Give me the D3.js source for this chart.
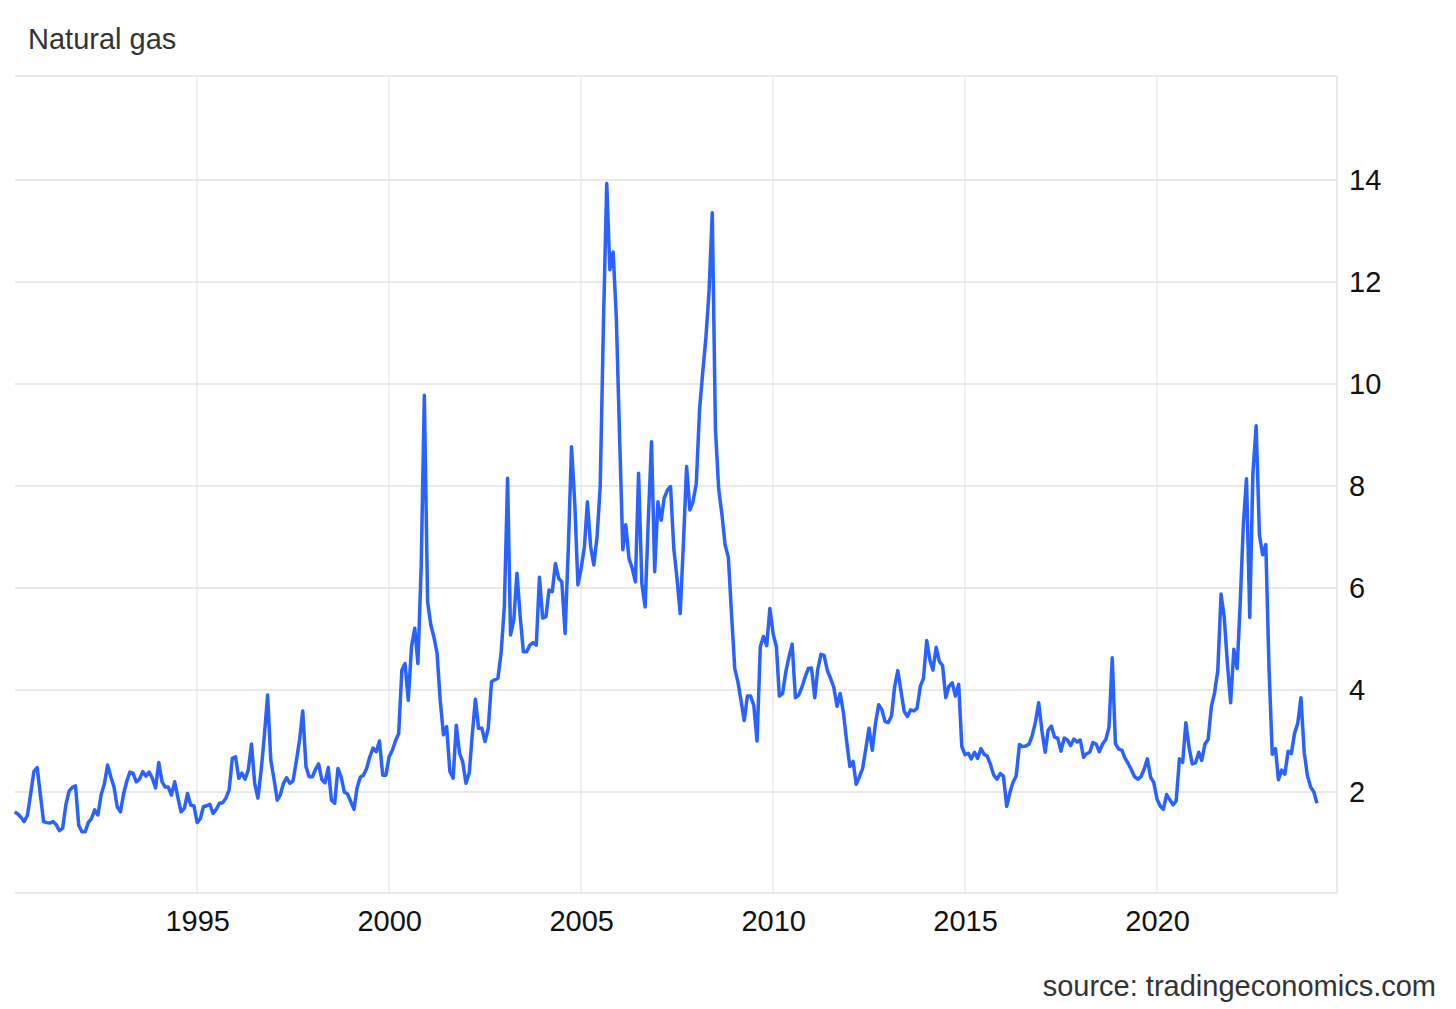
<!DOCTYPE html>
<html>
<head>
<meta charset="utf-8">
<script src="https://cdn.jsdelivr.net/npm/d3@7"></script>
<style>
  body { margin: 0; background: #fff; }
  text { font-family: Arial, "Liberation Sans", sans-serif; }
</style>
</head>
<body>
<div id="chart"></div>
<script>
// monthly closes, first month is April 1990
let startMonth = new Date(1990, 3, 1);
let y1990 = [1.61, 1.57, 1.50, 1.42, 1.55, 1.98, 2.40, 2.48, 1.95];
let y1991 = [1.42, 1.40, 1.39, 1.42, 1.36, 1.24, 1.29, 1.75, 2.02, 2.09, 2.12, 1.35];
let y1992 = [1.22, 1.22, 1.40, 1.48, 1.65, 1.55, 1.94, 2.16, 2.53, 2.30, 2.10, 1.71];
let y1993 = [1.61, 1.97, 2.20, 2.39, 2.37, 2.20, 2.25, 2.40, 2.31, 2.39, 2.27, 2.08];
let y1994 = [2.58, 2.20, 2.10, 2.10, 1.94, 2.20, 1.90, 1.61, 1.68, 1.97, 1.74, 1.73];
let y1995 = [1.40, 1.48, 1.71, 1.73, 1.76, 1.58, 1.66, 1.78, 1.79, 1.88, 2.04, 2.66];
let y1996 = [2.69, 2.27, 2.37, 2.25, 2.43, 2.94, 2.17, 1.88, 2.43, 3.10, 3.90, 2.63];
let y1997 = [2.25, 1.84, 1.94, 2.17, 2.28, 2.17, 2.22, 2.60, 3.02, 3.59, 2.50, 2.30];
let y1998 = [2.30, 2.45, 2.55, 2.24, 2.18, 2.48, 1.84, 1.78, 2.46, 2.30, 2.00, 1.96];
let y1999 = [1.81, 1.66, 2.07, 2.29, 2.33, 2.46, 2.69, 2.86, 2.79, 3.00, 2.33, 2.33];
let y2000 = [2.69, 2.82, 3.00, 3.15, 4.39, 4.52, 3.80, 4.85, 5.21, 4.52, 6.42, 9.78];
let y2001 = [5.73, 5.27, 5.05, 4.72, 3.80, 3.12, 3.28, 2.40, 2.27, 3.31, 2.76, 2.59];
let y2002 = [2.17, 2.37, 3.10, 3.82, 3.25, 3.25, 2.99, 3.25, 4.16, 4.20, 4.23, 4.72];
let y2003 = [5.63, 8.15, 5.08, 5.37, 6.29, 5.44, 4.75, 4.75, 4.88, 4.93, 4.88, 6.21];
let y2004 = [5.41, 5.44, 5.96, 5.93, 6.48, 6.19, 6.12, 5.11, 6.80, 8.77, 7.66, 6.06];
let y2005 = [6.39, 6.81, 7.69, 6.81, 6.45, 7.00, 7.99, 11.20, 13.93, 12.24, 12.59, 11.32];
let y2006 = [9.00, 6.75, 7.24, 6.58, 6.39, 6.12, 8.25, 6.09, 5.63, 7.30, 8.87, 6.32];
let y2007 = [7.69, 7.33, 7.76, 7.92, 7.99, 6.78, 6.20, 5.50, 6.90, 8.38, 7.53, 7.69];
let y2008 = [8.05, 9.49, 10.20, 10.90, 11.80, 13.36, 9.13, 7.94, 7.44, 6.85, 6.60, 5.50];
let y2009 = [4.42, 4.15, 3.80, 3.40, 3.88, 3.88, 3.70, 3.00, 4.85, 5.05, 4.87, 5.60];
let y2010 = [5.10, 4.85, 3.88, 3.93, 4.35, 4.65, 4.90, 3.85, 3.90, 4.05, 4.25, 4.42];
let y2011 = [4.43, 3.85, 4.40, 4.70, 4.68, 4.38, 4.23, 4.05, 3.68, 3.93, 3.55, 3.00];
let y2012 = [2.50, 2.60, 2.15, 2.30, 2.46, 2.85, 3.25, 2.82, 3.35, 3.71, 3.61, 3.38];
let y2013 = [3.36, 3.50, 4.05, 4.38, 3.98, 3.58, 3.48, 3.61, 3.59, 3.64, 4.07, 4.23];
let y2014 = [4.97, 4.58, 4.39, 4.84, 4.56, 4.48, 3.85, 4.08, 4.14, 3.88, 4.11, 2.89];
let y2015 = [2.73, 2.76, 2.65, 2.78, 2.66, 2.85, 2.74, 2.70, 2.53, 2.33, 2.25, 2.36];
let y2016 = [2.31, 1.72, 1.98, 2.19, 2.31, 2.93, 2.89, 2.90, 2.94, 3.11, 3.38, 3.75];
let y2017 = [3.20, 2.78, 3.21, 3.29, 3.08, 3.05, 2.80, 3.06, 3.02, 2.91, 3.04, 2.98];
let y2018 = [3.02, 2.68, 2.75, 2.78, 2.97, 2.94, 2.79, 2.94, 3.03, 3.27, 4.63, 2.95];
let y2019 = [2.84, 2.82, 2.67, 2.56, 2.44, 2.30, 2.25, 2.30, 2.45, 2.65, 2.29, 2.19];
let y2020 = [1.86, 1.72, 1.66, 1.95, 1.85, 1.75, 1.82, 2.65, 2.58, 3.36, 2.87, 2.55];
let y2021 = [2.57, 2.78, 2.62, 2.94, 3.03, 3.68, 3.94, 4.38, 5.88, 5.43, 4.50, 3.75];
let y2022 = [4.80, 4.42, 5.64, 7.24, 8.14, 5.42, 8.25, 9.18, 7.05, 6.65, 6.85, 4.45];
let y2023 = [2.74, 2.85, 2.24, 2.43, 2.35, 2.80, 2.75, 3.15, 3.35, 3.85, 2.78, 2.33];
let y2024 = [2.10, 2.00, 1.78];

let xTickYears = [1995, 2000, 2005, 2010, 2015, 2020];
let yTickValues = [2, 4, 6, 8, 10, 12, 14];

let prices = [].concat(y1990, y1991, y1992, y1993, y1994, y1995, y1996, y1997, y1998,
    y1999, y2000, y2001, y2002, y2003, y2004, y2005, y2006, y2007, y2008, y2009,
    y2010, y2011, y2012, y2013, y2014, y2015, y2016, y2017, y2018, y2019, y2020,
    y2021, y2022, y2023, y2024);

let data = prices.map(function(v, i) {
    return { date: d3.timeMonth.offset(startMonth, i), value: v };
});

let width = 1456, height = 1009;
let plot = { left: 15, right: 1337, top: 76, bottom: 894 };

let svg = d3.select("#chart")
    .append("svg")
    .attr("width", width)
    .attr("height", height)
    .style("display", "block");

svg.append("rect").attr("width", width).attr("height", height).attr("fill", "#fff");

let x = d3.scaleTime()
    .domain([new Date(1990, 3, 4), new Date(2024, 8, 8)])
    .range([plot.left, plot.right]);

let y = d3.scaleLinear()
    .domain([0, 16])
    .range([plot.bottom, 78]);

// vertical grid
svg.append("g")
    .selectAll("line")
    .data(xTickYears)
    .enter()
    .append("line")
    .attr("x1", d => x(new Date(d, 0, 1)))
    .attr("x2", d => x(new Date(d, 0, 1)))
    .attr("y1", plot.top)
    .attr("y2", plot.bottom)
    .attr("stroke", "#e6edf1")
    .attr("stroke-width", 1.5);

// horizontal grid
svg.append("g")
    .selectAll("line")
    .data(yTickValues)
    .enter()
    .append("line")
    .attr("x1", plot.left)
    .attr("x2", plot.right)
    .attr("y1", d => y(d))
    .attr("y2", d => y(d))
    .attr("stroke", "#e2e2e2")
    .attr("stroke-width", 1.5);

// frame top / bottom / right
svg.append("line")
    .attr("x1", plot.left).attr("x2", plot.right)
    .attr("y1", plot.top).attr("y2", plot.top)
    .attr("stroke", "#dde3e8").attr("stroke-width", 1.5);
svg.append("line")
    .attr("x1", plot.left).attr("x2", plot.right)
    .attr("y1", plot.bottom - 1).attr("y2", plot.bottom - 1)
    .attr("stroke", "#dde3e8").attr("stroke-width", 1.5);
svg.append("line")
    .attr("x1", plot.right).attr("x2", plot.right)
    .attr("y1", plot.top).attr("y2", plot.bottom - 1)
    .attr("stroke", "#dde3e8").attr("stroke-width", 1.5);

// y axis on the right
let yAxis = d3.axisRight(y).tickValues(yTickValues).tickSize(0).tickPadding(12);
let gy = svg.append("g")
    .attr("transform", `translate(${plot.right}, 0)`)
    .call(yAxis);
gy.select(".domain").remove();
gy.selectAll("text")
    .style("font-size", "29px")
    .attr("fill", "#111");

// x axis
let xAxis = d3.axisBottom(x)
    .tickValues(xTickYears.map(d => new Date(d, 0, 1)))
    .tickFormat(d3.timeFormat("%Y"))
    .tickSize(0)
    .tickPadding(16);
let gx = svg.append("g")
    .attr("transform", `translate(0, ${plot.bottom})`)
    .call(xAxis);
gx.select(".domain").remove();
gx.selectAll("text")
    .style("font-size", "29px")
    .attr("fill", "#111");

let line = d3.line()
    .x(d => x(d.date))
    .y(d => y(d.value));

svg.append("path")
    .datum(data)
    .attr("d", line)
    .attr("fill", "none")
    .attr("stroke", "#2962ff")
    .attr("stroke-width", 3.5)
    .attr("stroke-linejoin", "round");

svg.append("text")
    .attr("x", 28)
    .attr("y", 49)
    .style("font-size", "29px")
    .attr("fill", "#333")
    .text("Natural gas");

svg.append("text")
    .attr("x", 1436)
    .attr("y", 996)
    .attr("text-anchor", "end")
    .style("font-size", "29px")
    .attr("fill", "#333")
    .text("source: tradingeconomics.com");
</script>
</body>
</html>
